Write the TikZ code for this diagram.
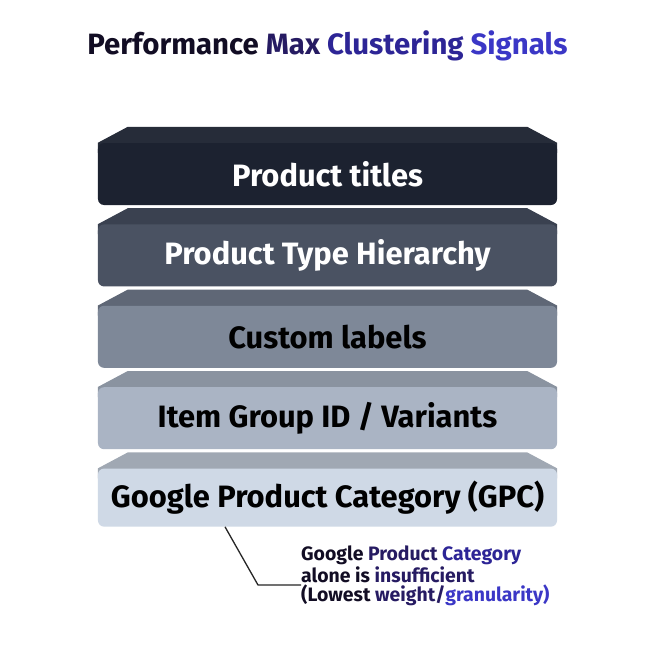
\documentclass[tikz,border=0pt]{standalone}
\usepackage{fontspec}
\setmainfont{Fira Sans}
\usetikzlibrary{positioning,backgrounds}

\definecolor{inkA}{HTML}{120D24}
\definecolor{inkB}{HTML}{261B62}
\definecolor{inkC}{HTML}{2D2596}
\definecolor{inkD}{HTML}{3B37C6}
\definecolor{frontA}{HTML}{1C2230}
\definecolor{frontB}{HTML}{4A5262}
\definecolor{frontC}{HTML}{7E8898}
\definecolor{frontD}{HTML}{AAB4C4}
\definecolor{frontE}{HTML}{CFD9E6}
\definecolor{topA}{HTML}{262C39}
\definecolor{topB}{HTML}{3A4150}
\definecolor{topC}{HTML}{5F6776}
\definecolor{topD}{HTML}{8A93A0}
\definecolor{topE}{HTML}{A0A8B3}

\begin{document}
\begin{tikzpicture}[
  x=1bp, y=-1bp,
  node distance=19bp,
  slab/.style={
    rectangle, rounded corners=6bp, inner sep=0pt,
    minimum width=459bp, minimum height=62bp,
    font=\bfseries\fontsize{31}{36}\selectfont
  },
  note/.style={align=left, inner sep=0pt, font=\bfseries\fontsize{19.5}{20}\selectfont},
  lead/.style={line width=1.3bp, draw=black!85}
]
\useasboundingbox (0,0) rectangle (655,655);

\node (title) [font=\bfseries\fontsize{29.5}{34}\selectfont] at (327.5,46)
  {\textcolor{inkA}{Performance} \textcolor{inkB}{Max} \textcolor{inkC}{Clustering} \textcolor{inkD}{Signals}};

% the stack of signals, strongest on top
\node (titles) [slab, fill=frontA, text=white] at (327.5,174) {Product titles};
\node (hier)   [slab, fill=frontB, text=white, below=of titles] {Product Type Hierarchy};
\node (custom) [slab, fill=frontC, text=black, below=of hier]   {Custom labels};
\node (group)  [slab, fill=frontD, text=black, below=of custom] {Item Group ID / Variants};
\node (gpc)    [slab, fill=frontE, text=black, below=of group, minimum height=58bp]
  {Google Product Category (GPC)};

% bevelled tops
\begin{scope}[on background layer]
  \fill[white] (0,0) rectangle (655,655);
  \foreach \n/\c in {titles/topA, hier/topB, custom/topC, group/topD, gpc/topE}
    \fill[\c] ([yshift=-10bp]\n.north west) -- (\n.north west) -- ++(30,-16)
      -- ([xshift=-30bp,yshift=16bp]\n.north east) -- (\n.north east)
      -- ([yshift=-10bp]\n.north east) -- cycle;
\end{scope}

\node (note) [note, anchor=north west] at (301,546)
  {\textcolor{inkA}{Google} \textcolor{inkB}{Product} \textcolor{inkC}{Category}\\
   \textcolor{inkA}{alone is} \textcolor{inkB}{insufficient}\\
   \textcolor{inkA}{(Lowest} \textcolor{inkB}{weight/}\textcolor{inkD}{granularity)}};

\coordinate (bend) at (258,585);
\draw[lead] ([xshift=-102.5bp]gpc.south) -- (bend) -- (bend -| note.west);
\end{tikzpicture}
\end{document}
